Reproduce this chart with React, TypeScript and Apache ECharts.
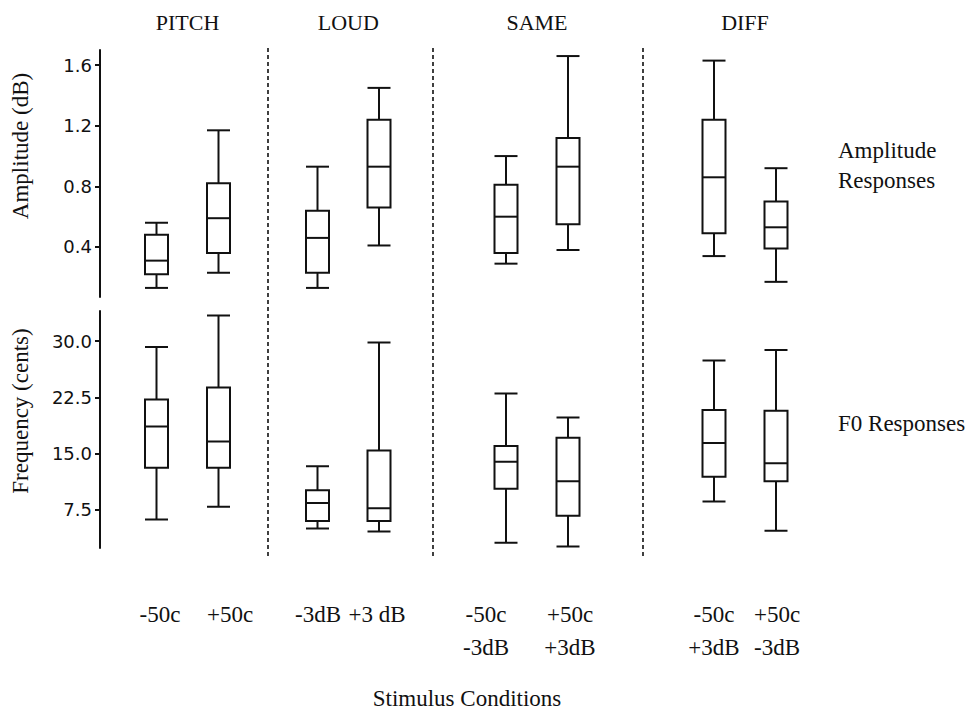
import React, { useEffect, useRef } from "react";
import * as echarts from "echarts";

// ---- data ----
const groups = ["PITCH", "LOUD", "SAME", "DIFF"];
const conditionLabels = ["-50c", "+50c", "-3dB", "+3 dB", "-50c\n-3dB", "+50c\n+3dB", "-50c\n+3dB", "+50c\n-3dB"];
// [min, Q1, median, Q3, max]
const amplitudeBoxes = [
  [0.13, 0.22, 0.31, 0.48, 0.56],
  [0.23, 0.36, 0.59, 0.82, 1.17],
  [0.13, 0.23, 0.46, 0.64, 0.93],
  [0.41, 0.66, 0.93, 1.24, 1.45],
  [0.29, 0.36, 0.6, 0.81, 1.0],
  [0.38, 0.55, 0.93, 1.12, 1.66],
  [0.34, 0.49, 0.86, 1.24, 1.63],
  [0.17, 0.39, 0.53, 0.7, 0.92],
];
const f0Boxes = [
  [6.2, 13.1, 18.6, 22.2, 29.2],
  [7.9, 13.1, 16.6, 23.8, 33.4],
  [5.0, 6.0, 8.4, 10.1, 13.3],
  [4.6, 6.0, 7.7, 15.4, 29.8],
  [3.1, 10.3, 13.9, 16.0, 23.0],
  [2.6, 6.7, 11.3, 17.1, 19.8],
  [8.6, 11.9, 16.4, 20.8, 27.4],
  [4.7, 11.3, 13.7, 20.7, 28.8],
];
const ampTicks = [0.4, 0.8, 1.2, 1.6];
const f0Ticks = [7.5, 15.0, 22.5, 30.0];

// ---- layout (x axis units) ----
const boxX = [156.5, 218.5, 317.5, 379, 506, 568, 714, 776];
const labelX = [160, 230, 318, 377, 486, 570, 714, 777];
const separatorX = [268, 433, 643];

const SERIF = "'Liberation Serif', 'Times New Roman', serif";
const SANS = "'DejaVu Sans', Verdana, sans-serif";
const INK = "#111";

function renderBox(params: any, api: any) {
  const x = api.value(0);
  const lo = api.coord([x, api.value(1)]);
  const q1 = api.coord([x, api.value(2)]);
  const md = api.coord([x, api.value(3)]);
  const q3 = api.coord([x, api.value(4)]);
  const hi = api.coord([x, api.value(5)]);
  const cx = lo[0];
  const w = 23;
  const style = { stroke: INK, lineWidth: 2, fill: null };
  return {
    type: "group",
    children: [
      { type: "line", shape: { x1: cx, y1: hi[1], x2: cx, y2: q3[1] }, style },
      { type: "line", shape: { x1: cx, y1: q1[1], x2: cx, y2: lo[1] }, style },
      { type: "line", shape: { x1: cx - w / 2, y1: hi[1], x2: cx + w / 2, y2: hi[1] }, style },
      { type: "line", shape: { x1: cx - w / 2, y1: lo[1], x2: cx + w / 2, y2: lo[1] }, style },
      { type: "rect", shape: { x: cx - w / 2, y: q3[1], width: w, height: q1[1] - q3[1] }, style: { stroke: INK, lineWidth: 2, fill: "#fff" } },
      { type: "line", shape: { x1: cx - w / 2, y1: md[1], x2: cx + w / 2, y2: md[1] }, style },
    ],
  };
}

export default function App() {
  const ref = useRef<HTMLDivElement>(null);
  useEffect(() => {
    if (!ref.current) return;
    const chart = echarts.init(ref.current, null, { renderer: "svg" });
    const yAxisCommon = (ticks: number[], digits: number) => ({
      type: "value",
      axisLine: { show: true, lineStyle: { color: INK, width: 2 } },
      axisTick: { show: true, customValues: ticks, length: 5, lineStyle: { color: INK, width: 2 } },
      axisLabel: {
        customValues: ticks,
        formatter: (v: number) => v.toFixed(digits),
        fontFamily: SANS,
        fontSize: 18,
        color: INK,
        margin: 8,
      },
      splitLine: { show: false },
    });
    chart.setOption({
      animation: false,
      backgroundColor: "#fff",
      grid: [
        { left: 100, top: 50, width: 770, height: 247 },
        { left: 100, top: 311, width: 770, height: 237 },
      ],
      xAxis: [
        { type: "value", gridIndex: 0, min: 100, max: 870, show: false },
        {
          type: "value",
          gridIndex: 1,
          min: 100,
          max: 870,
          axisLine: { show: false },
          axisTick: { show: false },
          splitLine: { show: false },
          axisLabel: {
            customValues: labelX,
            formatter: (v: number) => {
              const i = labelX.indexOf(v);
              return i >= 0 ? conditionLabels[i] : "";
            },
            fontFamily: SERIF,
            fontSize: 23,
            lineHeight: 33,
            color: INK,
            margin: 50,
          },
        },
      ],
      yAxis: [
        { ...yAxisCommon(ampTicks, 1), gridIndex: 0, min: 0.07, max: 1.7 },
        { ...yAxisCommon(f0Ticks, 1), gridIndex: 1, min: 2.4, max: 34 },
      ],
      series: [
        {
          type: "custom",
          name: "Amplitude Responses",
          xAxisIndex: 0,
          yAxisIndex: 0,
          renderItem: renderBox,
          encode: { x: 0, y: [1, 2, 3, 4, 5] },
          data: amplitudeBoxes.map((b, i) => [boxX[i], ...b]),
        },
        {
          type: "custom",
          name: "F0 Responses",
          xAxisIndex: 1,
          yAxisIndex: 1,
          renderItem: renderBox,
          encode: { x: 0, y: [1, 2, 3, 4, 5] },
          data: f0Boxes.map((b, i) => [boxX[i], ...b]),
        },
      ],
    });

    const px = (v: number) => chart.convertToPixel({ xAxisIndex: 0 }, v) as number;
    const textStyle = (extra: any = {}) => ({ fill: INK, font: `23px ${SERIF}`, ...extra });
    const graphics: any[] = [];
    separatorX.forEach((sx) => {
      graphics.push({
        type: "line",
        shape: { x1: px(sx), y1: 48, x2: px(sx), y2: 557 },
        style: { stroke: INK, lineWidth: 1.6, lineDash: [4, 3] },
        silent: true,
      });
    });
    groups.forEach((g, i) => {
      graphics.push({
        type: "text",
        x: (px(boxX[2 * i]) + px(boxX[2 * i + 1])) / 2,
        y: 22,
        style: textStyle({ text: g, align: "center", verticalAlign: "middle", font: `22px ${SERIF}` }),
      });
    });
    graphics.push(
      { type: "text", x: 838, y: 150, style: textStyle({ text: "Amplitude", align: "left", verticalAlign: "middle" }) },
      { type: "text", x: 838, y: 180, style: textStyle({ text: "Responses", align: "left", verticalAlign: "middle" }) },
      { type: "text", x: 838, y: 423, style: textStyle({ text: "F0 Responses", align: "left", verticalAlign: "middle" }) },
      { type: "text", x: 20, y: 146, rotation: Math.PI / 2, style: textStyle({ text: "Amplitude (dB)", align: "center", verticalAlign: "middle" }) },
      { type: "text", x: 20, y: 411, rotation: Math.PI / 2, style: textStyle({ text: "Frequency (cents)", align: "center", verticalAlign: "middle" }) },
      { type: "text", x: 467, y: 698, style: textStyle({ text: "Stimulus Conditions", align: "center", verticalAlign: "middle" }) }
    );
    chart.setOption({ graphic: graphics });
    return () => chart.dispose();
  }, []);
  return <div ref={ref} style={{ position: "fixed", left: 0, top: 0, width: 969, height: 713 }} />;
}
